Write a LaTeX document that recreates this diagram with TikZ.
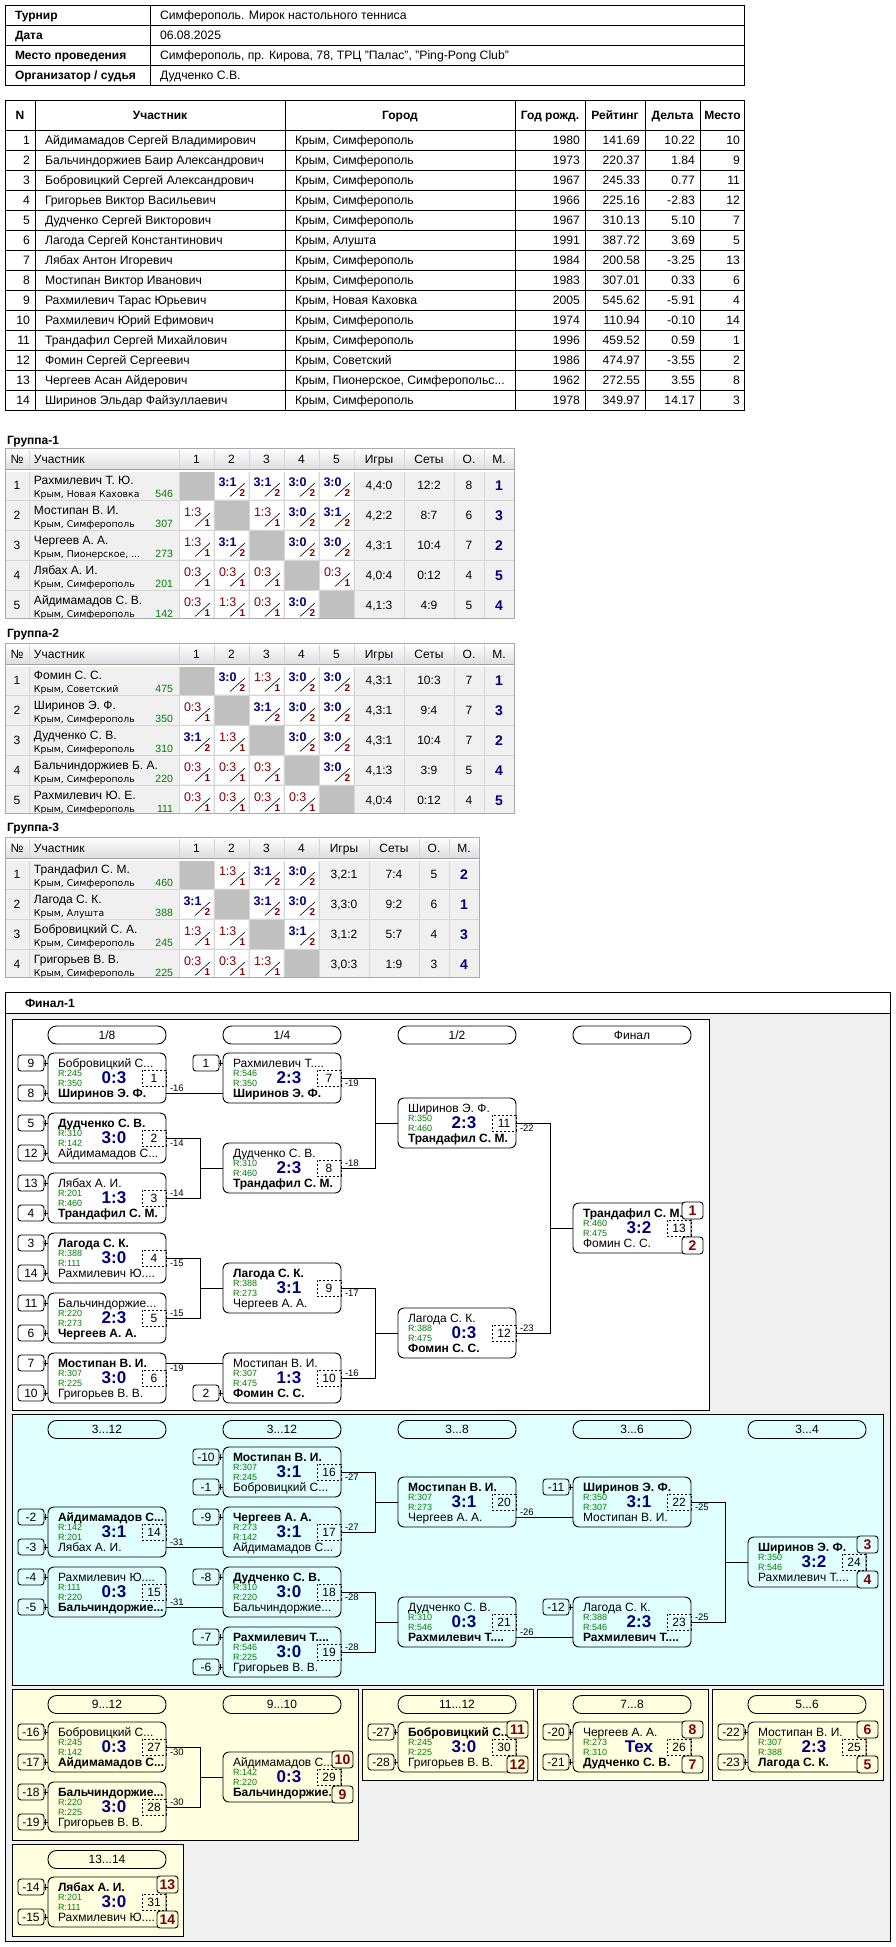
\documentclass[tikz,border=0pt]{standalone}
\usepackage{fontspec}
\setmainfont{Liberation Sans}
\newfontfamily\cityfnt{DejaVu Sans}
\usetikzlibrary{calc}
\definecolor{scblue}{RGB}{0,0,128}
\definecolor{dred}{RGB}{128,0,0}
\definecolor{rgreen}{RGB}{0,128,0}
\definecolor{cyanbg}{RGB}{224,255,255}
\definecolor{yelbg}{RGB}{255,255,224}
\definecolor{graybg}{RGB}{240,240,240}
\definecolor{gbody}{RGB}{240,240,240}
\definecolor{gridc}{RGB}{214,214,214}
\definecolor{hdrb}{RGB}{222,222,226}
\definecolor{hdrl}{RGB}{160,160,160}
\definecolor{gborder}{RGB}{170,170,170}
\definecolor{selfc}{RGB}{192,192,192}
\newcommand{\FS}[1]{\fontsize{#1}{#1}\selectfont}
\def\curbg{white}
\tikzset{
 every node/.style={inner sep=0pt,outer sep=0pt},
 th/.style={text height=#1,text depth=0pt},
 tx/.style={anchor=west,font=\FS{12.2},th=8.7pt},
 txb/.style={anchor=west,font=\FS{12}\bfseries,th=8.7pt},
 txr/.style={anchor=east,font=\FS{12.2},th=8.7pt},
 txc/.style={font=\FS{12},th=8.7pt},
 txcb/.style={font=\FS{12}\bfseries,th=8.7pt},
 gname/.style={anchor=west,font=\FS{12},th=8.7pt},
 gcity/.style={anchor=west,font=\cityfnt\FS{9.3},th=6.8pt},
 grat/.style={anchor=east,font=\FS{10.5},text=rgreen,th=7.5pt},
 gst/.style={font=\FS{12},th=8.7pt},
 gpl/.style={font=\FS{14}\bfseries,text=scblue,th=10pt},
 gsw/.style={anchor=west,font=\FS{12.5}\bfseries,text=scblue,th=9pt},
 gsl/.style={anchor=west,font=\FS{12.5},text=dred,th=9pt},
 gpw/.style={font=\FS{10}\bfseries,text=dred,th=7.2pt},
 slash/.style={line width=0.6pt},
 hsep/.style={draw=gridc},
 mbox/.style={draw,rounded corners=6pt,minimum width=118pt,minimum height=50pt},
 nmtxt/.style={anchor=west,font=\FS{12},th=8.7pt},
 rtxt/.style={anchor=west,font=\FS{9},text=rgreen,th=6.5pt},
 sctxt/.style={font=\FS{17}\bfseries,text=scblue,th=12.2pt},
 numbox/.style={draw,dash pattern=on 2pt off 2pt,minimum width=24pt,minimum height=16pt,font=\FS{12},th=8.7pt},
 seedbox/.style={draw,rounded corners=3pt,minimum width=26pt,minimum height=16pt,font=\FS{12},th=8.7pt},
 plbox/.style={draw,rounded corners=3pt,minimum width=21pt,minimum height=17pt,font=\FS{14}\bfseries,text=dred,fill=\curbg,th=10pt},
 pill/.style={draw,rounded corners=8.5pt,minimum width=118pt,minimum height=18pt,font=\FS{12},th=8.7pt},
 lbl/.style={font=\FS{9.5},th=6.8pt},
}
% group table cells
\newcommand{\GcW}[4]{\fill[white] (#1+1,#2+1) rectangle (#1+34,#2+29);
 \node[gsw] (#4a) at (#1+4.5,#2+11.5) {#3};
 \draw[slash] (#1+16,#2+26.5) -- (#1+31,#2+13);
 \node[gpw] (#4b) at (#1+28.5,#2+23.3) {2};}
\newcommand{\GcL}[4]{\fill[white] (#1+1,#2+1) rectangle (#1+34,#2+29);
 \node[gsl] (#4a) at (#1+5,#2+11.5) {#3};
 \draw[slash] (#1+16,#2+26.5) -- (#1+31,#2+13);
 \node[gpw] (#4b) at (#1+28.5,#2+23.3) {1};}
\newcommand{\GcX}[2]{\fill[selfc] (#1,#2) rectangle (#1+35,#2+30);}
\newcommand{\GRow}[6]{%
 \node[gst] (#1n) at (17,#2+15) {#3};
 \node[gname] (#1m) at (34,#2+10) {#4};
 \node[gcity] (#1c) at (34,#2+24) {#5};
 \node[grat] (#1r) at (173,#2+24) {#6};}
\newcommand{\GStF}[6]{%
 \node[gst] (#1g) at (379,#2+15) {#3};
 \node[gst] (#1s) at (429,#2+15) {#4};
 \node[gst] (#1p) at (469,#2+15) {#5};
 \node[gpl] (#1q) at (499,#2+15) {#6};}
\newcommand{\GStV}[6]{%
 \node[gst] (#1g) at (344,#2+15) {#3};
 \node[gst] (#1s) at (394,#2+15) {#4};
 \node[gst] (#1p) at (434,#2+15) {#5};
 \node[gpl] (#1q) at (464,#2+15) {#6};}
\newcommand{\GHdr}[3]{%
 \shade[top color=white,bottom color=hdrb] (5,#1) rectangle (#2,#1+21);
 \fill[white] (5,#1+21) rectangle (#2,#1+24);
 \draw[hdrl] (5,#1+21) -- (#2,#1+21);
 \foreach \xx in {#3} \draw[hsep] (\xx,#1+2) -- (\xx,#1+20);}
% bracket
\newcommand{\Mt}[9]{%
 \node[mbox] (#1) at (#2+59,#3+25) {};
 \node[nmtxt] (#1a) at (#2+10,#3+10) {#4};
 \node[rtxt] (#1b) at (#2+10,#3+20) {R:#5};
 \node[rtxt] (#1c) at (#2+10,#3+30.5) {R:#6};
 \node[sctxt] (#1d) at (#2+66,#3+24.5) {#7};
 \node[nmtxt] (#1e) at (#2+10,#3+40) {#8};
 \node[numbox] (#1f) at (#2+106,#3+25) {#9};}
\newcommand{\Sd}[5]{%
 \node[seedbox] (#1) at (#3-17,#4) {#5};
 \draw (#1.east) -- (#2.west |- #1.east);
 \draw ($(#2.west |- #1.east)+(-2.5,-3)$) -- ++(0,6);}
\newcommand{\Pl}[4]{%
 \node[plbox] (#1t) at ($(#2.north east)+(1.5,7.5)$) {#3};
 \node[plbox] (#1b) at ($(#2.south east)+(1.5,-7.5)$) {#4};}
\newcommand{\Jn}[5]{% pair join: a, b, target, label a, label b
 \draw (#1.east) -- ++(34,0) |- (#3.west);
 \draw (#2.east) -- ++(34,0) |- (#3.west);
 \node[lbl,anchor=north west] (#1l) at ($(#1.east)+(4,2)$) {#4};
 \node[lbl,anchor=south west] (#2l) at ($(#2.east)+(4,-2)$) {#5};}
\newcommand{\Jb}[3]{% straight to bottom slot
 \draw ($(#1.east)+(0,15)$) -- ($(#2.west)+(0,15)$);
 \node[lbl,anchor=south west] (#1l) at ($(#1.east)+(4,13)$) {#3};}
\newcommand{\Jt}[3]{% straight to top slot
 \draw ($(#1.east)+(0,-15)$) -- ($(#2.west)+(0,-15)$);
 \node[lbl,anchor=north west] (#1l) at ($(#1.east)+(4,-13)$) {#3};}
\begin{document}
\begin{tikzpicture}[x=1pt,y=-1pt,line width=0.9pt]
\useasboundingbox (0,0) rectangle (895,1947);
\fill[white] (0,0) rectangle (895,1947);
%% info table
\draw (5,5) rectangle (744,85);
\foreach \yy in {25,45,65} \draw (5,\yy) -- (744,\yy);
\draw (150,5) -- (150,85);
\node[txb] (i1) at (15,15) {Турнир};
\node[txb] (i2) at (15,35) {Дата};
\node[txb] (i3) at (15,55) {Место проведения};
\node[txb] (i4) at (15,75) {Организатор / судья};
\node[tx] (v1) at (160,15) {Симферополь. Мирок настольного тенниса};
\node[tx] (v2) at (160,35) {06.08.2025};
\node[tx] (v3) at (160,55) {Симферополь, пр. Кирова, 78, ТРЦ "Палас", "Ping-Pong Club"};
\node[tx] (v4) at (160,75) {Дудченко С.В.};
%% main table
\draw (5,100) rectangle (744,410);
\foreach \yy in {130,150,...,390} \draw (5,\yy) -- (744,\yy);
\foreach \xx in {35,285,515,585,645,700} \draw (\xx,100) -- (\xx,410);
\node[txcb] (h1) at (20,115) {N};
\node[txcb] (h2) at (160,115) {Участник};
\node[txcb] (h3) at (400,115) {Город};
\node[txcb] (h4) at (550,115) {Год рожд.};
\node[txcb] (h5) at (615,115) {Рейтинг};
\node[txcb] (h6) at (672.5,115) {Дельта};
\node[txcb] (h7) at (722.5,115) {Место};
\foreach \pa/\pb/\pc/\pd/\pe/\pf/\pg in {
1/Айдимамадов Сергей Владимирович/{Крым, Симферополь}/1980/141.69/10.22/10,
2/Бальчиндоржиев Баир Александрович/{Крым, Симферополь}/1973/220.37/1.84/9,
3/Бобровицкий Сергей Александрович/{Крым, Симферополь}/1967/245.33/0.77/11,
4/Григорьев Виктор Васильевич/{Крым, Симферополь}/1966/225.16/-2.83/12,
5/Дудченко Сергей Викторович/{Крым, Симферополь}/1967/310.13/5.10/7,
6/Лагода Сергей Константинович/{Крым, Алушта}/1991/387.72/3.69/5,
7/Лябах Антон Игоревич/{Крым, Симферополь}/1984/200.58/-3.25/13,
8/Мостипан Виктор Иванович/{Крым, Симферополь}/1983/307.01/0.33/6,
9/Рахмилевич Тарас Юрьевич/{Крым, Новая Каховка}/2005/545.62/-5.91/4,
10/Рахмилевич Юрий Ефимович/{Крым, Симферополь}/1974/110.94/-0.10/14,
11/Трандафил Сергей Михайлович/{Крым, Симферополь}/1996/459.52/0.59/1,
12/Фомин Сергей Сергеевич/{Крым, Советский}/1986/474.97/-3.55/2,
13/Чергеев Асан Айдерович/{Крым, Пионерское, Симферопольс...}/1962/272.55/3.55/8,
14/Ширинов Эльдар Файзуллаевич/{Крым, Симферополь}/1978/349.97/14.17/3}{
 \node[txr] (tn\pa) at (30,120+20*\pa) {\pa};
 \node[tx] (tp\pa) at (45,120+20*\pa) {\pb};
 \node[tx] (tc\pa) at (295,120+20*\pa) {\pc};
 \node[txr] (ty\pa) at (580,120+20*\pa) {\pd};
 \node[txr] (tr\pa) at (640,120+20*\pa) {\pe};
 \node[txr] (td\pa) at (695,120+20*\pa) {\pf};
 \node[txr] (tm\pa) at (740,120+20*\pa) {\pg};
}
%% Group 1
\node[txb] (g1t) at (7,440) {Группа-1};
\begin{scope}
\clip (5,472) rectangle (514,618);
\fill[gbody] (5,472) rectangle (514,618);
\GcX{179}{470} \GcW{214}{470}{3:1}{g1a2} \GcW{249}{470}{3:1}{g1a3} \GcW{284}{470}{3:0}{g1a4} \GcW{319}{470}{3:0}{g1a5}
\GcL{179}{500}{1:3}{g1b1} \GcX{214}{500} \GcL{249}{500}{1:3}{g1b3} \GcW{284}{500}{3:0}{g1b4} \GcW{319}{500}{3:1}{g1b5}
\GcL{179}{530}{1:3}{g1c1} \GcW{214}{530}{3:1}{g1c2} \GcX{249}{530} \GcW{284}{530}{3:0}{g1c4} \GcW{319}{530}{3:0}{g1c5}
\GcL{179}{560}{0:3}{g1d1} \GcL{214}{560}{0:3}{g1d2} \GcL{249}{560}{0:3}{g1d3} \GcX{284}{560} \GcL{319}{560}{0:3}{g1d5}
\GcL{179}{590}{0:3}{g1e1} \GcL{214}{590}{1:3}{g1e2} \GcL{249}{590}{0:3}{g1e3} \GcW{284}{590}{3:0}{g1e4} \GcX{319}{590}
\foreach \yy in {500,530,560,590} \draw[gridc] (5,\yy) -- (514,\yy);
\foreach \xx in {29,179,214,249,284,319,354,404,454,484} \draw[gridc] (\xx,472) -- (\xx,618);
\GRow{g1r1}{470}{1}{Рахмилевич Т. Ю.}{Крым, Новая Каховка}{546}
\GRow{g1r2}{500}{2}{Мостипан В. И.}{Крым, Симферополь}{307}
\GRow{g1r3}{530}{3}{Чергеев А. А.}{Крым, Пионерское, ...}{273}
\GRow{g1r4}{560}{4}{Лябах А. И.}{Крым, Симферополь}{201}
\GRow{g1r5}{590}{5}{Айдимамадов С. В.}{Крым, Симферополь}{142}
\GStF{g1r1}{470}{4,4:0}{12:2}{8}{1}
\GStF{g1r2}{500}{4,2:2}{8:7}{6}{3}
\GStF{g1r3}{530}{4,3:1}{10:4}{7}{2}
\GStF{g1r4}{560}{4,0:4}{0:12}{4}{5}
\GStF{g1r5}{590}{4,1:3}{4:9}{5}{4}
\end{scope}
\GHdr{448}{514}{29,179,214,249,284,319,354,404,454,484}
\draw[gborder] (5,448) rectangle (514,618);
\node[gst] (g1h1) at (17,459) {№};
\node[gname] (g1h2) at (34,459) {Участник};
\foreach \k in {1,...,5} \node[gst] (g1hc\k) at (161.5+35*\k,459) {\k};
\node[gst] (g1h3) at (379,459) {Игры};
\node[gst] (g1h4) at (429,459) {Сеты};
\node[gst] (g1h5) at (469,459) {О.};
\node[gst] (g1h6) at (499,459) {М.};
%% Group 2
\node[txb] (g2t) at (7,633) {Группа-2};
\begin{scope}
\clip (5,667) rectangle (514,813);
\fill[gbody] (5,667) rectangle (514,813);
\GcX{179}{665} \GcW{214}{665}{3:0}{g2a2} \GcL{249}{665}{1:3}{g2a3} \GcW{284}{665}{3:0}{g2a4} \GcW{319}{665}{3:0}{g2a5}
\GcL{179}{695}{0:3}{g2b1} \GcX{214}{695} \GcW{249}{695}{3:1}{g2b3} \GcW{284}{695}{3:0}{g2b4} \GcW{319}{695}{3:0}{g2b5}
\GcW{179}{725}{3:1}{g2c1} \GcL{214}{725}{1:3}{g2c2} \GcX{249}{725} \GcW{284}{725}{3:0}{g2c4} \GcW{319}{725}{3:0}{g2c5}
\GcL{179}{755}{0:3}{g2d1} \GcL{214}{755}{0:3}{g2d2} \GcL{249}{755}{0:3}{g2d3} \GcX{284}{755} \GcW{319}{755}{3:0}{g2d5}
\GcL{179}{785}{0:3}{g2e1} \GcL{214}{785}{0:3}{g2e2} \GcL{249}{785}{0:3}{g2e3} \GcL{284}{785}{0:3}{g2e4} \GcX{319}{785}
\foreach \yy in {695,725,755,785} \draw[gridc] (5,\yy) -- (514,\yy);
\foreach \xx in {29,179,214,249,284,319,354,404,454,484} \draw[gridc] (\xx,667) -- (\xx,813);
\GRow{g2r1}{665}{1}{Фомин С. С.}{Крым, Советский}{475}
\GRow{g2r2}{695}{2}{Ширинов Э. Ф.}{Крым, Симферополь}{350}
\GRow{g2r3}{725}{3}{Дудченко С. В.}{Крым, Симферополь}{310}
\GRow{g2r4}{755}{4}{Бальчиндоржиев Б. А.}{Крым, Симферополь}{220}
\GRow{g2r5}{785}{5}{Рахмилевич Ю. Е.}{Крым, Симферополь}{111}
\GStF{g2r1}{665}{4,3:1}{10:3}{7}{1}
\GStF{g2r2}{695}{4,3:1}{9:4}{7}{3}
\GStF{g2r3}{725}{4,3:1}{10:4}{7}{2}
\GStF{g2r4}{755}{4,1:3}{3:9}{5}{4}
\GStF{g2r5}{785}{4,0:4}{0:12}{4}{5}
\end{scope}
\GHdr{643}{514}{29,179,214,249,284,319,354,404,454,484}
\draw[gborder] (5,643) rectangle (514,813);
\node[gst] (g2h1) at (17,654) {№};
\node[gname] (g2h2) at (34,654) {Участник};
\foreach \k in {1,...,5} \node[gst] (g2hc\k) at (161.5+35*\k,654) {\k};
\node[gst] (g2h3) at (379,654) {Игры};
\node[gst] (g2h4) at (429,654) {Сеты};
\node[gst] (g2h5) at (469,654) {О.};
\node[gst] (g2h6) at (499,654) {М.};
%% Group 3
\node[txb] (g3t) at (7,827) {Группа-3};
\begin{scope}
\clip (5,861) rectangle (479,977);
\fill[gbody] (5,861) rectangle (479,977);
\GcX{179}{859} \GcL{214}{859}{1:3}{g3a2} \GcW{249}{859}{3:1}{g3a3} \GcW{284}{859}{3:0}{g3a4}
\GcW{179}{889}{3:1}{g3b1} \GcX{214}{889} \GcW{249}{889}{3:1}{g3b3} \GcW{284}{889}{3:0}{g3b4}
\GcL{179}{919}{1:3}{g3c1} \GcL{214}{919}{1:3}{g3c2} \GcX{249}{919} \GcW{284}{919}{3:1}{g3c4}
\GcL{179}{949}{0:3}{g3d1} \GcL{214}{949}{0:3}{g3d2} \GcL{249}{949}{1:3}{g3d3} \GcX{284}{949}
\foreach \yy in {889,919,949} \draw[gridc] (5,\yy) -- (479,\yy);
\foreach \xx in {29,179,214,249,284,319,369,419,449} \draw[gridc] (\xx,861) -- (\xx,977);
\GRow{g3r1}{859}{1}{Трандафил С. М.}{Крым, Симферополь}{460}
\GRow{g3r2}{889}{2}{Лагода С. К.}{Крым, Алушта}{388}
\GRow{g3r3}{919}{3}{Бобровицкий С. А.}{Крым, Симферополь}{245}
\GRow{g3r4}{949}{4}{Григорьев В. В.}{Крым, Симферополь}{225}
\GStV{g3r1}{859}{3,2:1}{7:4}{5}{2}
\GStV{g3r2}{889}{3,3:0}{9:2}{6}{1}
\GStV{g3r3}{919}{3,1:2}{5:7}{4}{3}
\GStV{g3r4}{949}{3,0:3}{1:9}{3}{4}
\end{scope}
\GHdr{837}{479}{29,179,214,249,284,319,369,419,449}
\draw[gborder] (5,837) rectangle (479,977);
\node[gst] (g3h1) at (17,848) {№};
\node[gname] (g3h2) at (34,848) {Участник};
\foreach \k in {1,...,4} \node[gst] (g3hc\k) at (161.5+35*\k,848) {\k};
\node[gst] (g3h3) at (344,848) {Игры};
\node[gst] (g3h4) at (394,848) {Сеты};
\node[gst] (g3h5) at (434,848) {О.};
\node[gst] (g3h6) at (464,848) {М.};
%% Final-1 frame
\fill[graybg] (5,992) rectangle (890,1941);
\fill[white] (5,992) rectangle (890,1013);
\draw (5,992) rectangle (890,1941);
\draw (5,1013) -- (890,1013);
\node[txb] (f1t) at (25,1003) {Финал-1};
\filldraw[fill=white] (12,1019) rectangle (709,1410);
\filldraw[fill=cyanbg] (12,1414) rectangle (883,1685);
\filldraw[fill=yelbg] (12,1689) rectangle (358,1840);
\filldraw[fill=yelbg] (362,1689) rectangle (533,1780);
\filldraw[fill=yelbg] (537,1689) rectangle (708,1780);
\filldraw[fill=yelbg] (712,1689) rectangle (883,1780);
\filldraw[fill=yelbg] (12,1844) rectangle (183,1936);
%% main bracket
\node[pill] (pa1) at (107,1035) {1/8};
\node[pill] (pa2) at (282,1035) {1/4};
\node[pill] (pa3) at (457,1035) {1/2};
\node[pill] (pa4) at (632,1035) {Финал};
\Mt{m1}{48}{1053}{Бобровицкий С...}{245}{350}{0:3}{\textbf{Ширинов Э. Ф.}}{1}
\Mt{m2}{48}{1113}{\textbf{Дудченко С. В.}}{310}{142}{3:0}{Айдимамадов С...}{2}
\Mt{m3}{48}{1173}{Лябах А. И.}{201}{460}{1:3}{\textbf{Трандафил С. М.}}{3}
\Mt{m4}{48}{1233}{\textbf{Лагода С. К.}}{388}{111}{3:0}{Рахмилевич Ю....}{4}
\Mt{m5}{48}{1293}{Бальчиндоржие...}{220}{273}{2:3}{\textbf{Чергеев А. А.}}{5}
\Mt{m6}{48}{1353}{\textbf{Мостипан В. И.}}{307}{225}{3:0}{Григорьев В. В.}{6}
\Mt{m7}{223}{1053}{Рахмилевич Т....}{546}{350}{2:3}{\textbf{Ширинов Э. Ф.}}{7}
\Mt{m8}{223}{1143}{Дудченко С. В.}{310}{460}{2:3}{\textbf{Трандафил С. М.}}{8}
\Mt{m9}{223}{1263}{\textbf{Лагода С. К.}}{388}{273}{3:1}{Чергеев А. А.}{9}
\Mt{m10}{223}{1353}{Мостипан В. И.}{307}{475}{1:3}{\textbf{Фомин С. С.}}{10}
\Mt{m11}{398}{1098}{Ширинов Э. Ф.}{350}{460}{2:3}{\textbf{Трандафил С. М.}}{11}
\Mt{m12}{398}{1308}{Лагода С. К.}{388}{475}{0:3}{\textbf{Фомин С. С.}}{12}
\Mt{m13}{573}{1203}{\textbf{Трандафил С. М.}}{460}{475}{3:2}{Фомин С. С.}{13}
\Sd{s9}{m1}{48}{1063}{9} \Sd{s8}{m1}{48}{1093}{8}
\Sd{s5}{m2}{48}{1123}{5} \Sd{s12}{m2}{48}{1153}{12}
\Sd{s13}{m3}{48}{1183}{13} \Sd{s4}{m3}{48}{1213}{4}
\Sd{s3}{m4}{48}{1243}{3} \Sd{s14}{m4}{48}{1273}{14}
\Sd{s11}{m5}{48}{1303}{11} \Sd{s6}{m5}{48}{1333}{6}
\Sd{s7}{m6}{48}{1363}{7} \Sd{s10}{m6}{48}{1393}{10}
\Sd{s1}{m7}{223}{1063}{1} \Sd{s2}{m10}{223}{1393}{2}
\Jb{m1}{m7}{-16}
\Jn{m2}{m3}{m8}{-14}{-14}
\Jn{m4}{m5}{m9}{-15}{-15}
\Jt{m6}{m10}{-19}
\Jn{m7}{m8}{m11}{-19}{-18}
\Jn{m9}{m10}{m12}{-17}{-16}
\Jn{m11}{m12}{m13}{-22}{-23}
\def\curbg{white}
\Pl{q13}{m13}{1}{2}
%% 3..12
\node[pill] (pb1) at (107,1429.5) {3...12};
\node[pill] (pb2) at (282,1429.5) {3...12};
\node[pill] (pb3) at (457,1429.5) {3...8};
\node[pill] (pb4) at (632,1429.5) {3...6};
\node[pill] (pb5) at (807,1429.5) {3...4};
\Mt{m14}{48}{1507}{\textbf{Айдимамадов С...}}{142}{201}{3:1}{Лябах А. И.}{14}
\Mt{m15}{48}{1567}{Рахмилевич Ю....}{111}{220}{0:3}{\textbf{Бальчиндоржие...}}{15}
\Mt{m16}{223}{1447}{\textbf{Мостипан В. И.}}{307}{245}{3:1}{Бобровицкий С...}{16}
\Mt{m17}{223}{1507}{\textbf{Чергеев А. А.}}{273}{142}{3:1}{Айдимамадов С...}{17}
\Mt{m18}{223}{1567}{\textbf{Дудченко С. В.}}{310}{220}{3:0}{Бальчиндоржие...}{18}
\Mt{m19}{223}{1627}{\textbf{Рахмилевич Т....}}{546}{225}{3:0}{Григорьев В. В.}{19}
\Mt{m20}{398}{1477}{\textbf{Мостипан В. И.}}{307}{273}{3:1}{Чергеев А. А.}{20}
\Mt{m21}{398}{1597}{Дудченко С. В.}{310}{546}{0:3}{\textbf{Рахмилевич Т....}}{21}
\Mt{m22}{573}{1477}{\textbf{Ширинов Э. Ф.}}{350}{307}{3:1}{Мостипан В. И.}{22}
\Mt{m23}{573}{1597}{Лагода С. К.}{388}{546}{2:3}{\textbf{Рахмилевич Т....}}{23}
\Mt{m24}{748}{1537}{\textbf{Ширинов Э. Ф.}}{350}{546}{3:2}{Рахмилевич Т....}{24}
\Sd{sb2}{m14}{48}{1517}{-2} \Sd{sb3}{m14}{48}{1547}{-3}
\Sd{sb4}{m15}{48}{1577}{-4} \Sd{sb5}{m15}{48}{1607}{-5}
\Sd{sb10}{m16}{223}{1457}{-10} \Sd{sb1}{m16}{223}{1487}{-1}
\Sd{sb9}{m17}{223}{1517}{-9}
\Sd{sb8}{m18}{223}{1577}{-8}
\Sd{sb7}{m19}{223}{1637}{-7} \Sd{sb6}{m19}{223}{1667}{-6}
\Sd{sb11}{m22}{573}{1487}{-11}
\Sd{sb12}{m23}{573}{1607}{-12}
\Jb{m14}{m17}{-31}
\Jb{m15}{m18}{-31}
\Jn{m16}{m17}{m20}{-27}{-27}
\Jn{m18}{m19}{m21}{-28}{-28}
\Jb{m20}{m22}{-26}
\Jb{m21}{m23}{-26}
\Jn{m22}{m23}{m24}{-25}{-25}
\def\curbg{cyanbg}
\Pl{q24}{m24}{3}{4}
%% 9..12 and others
\node[pill] (pc1) at (107,1704.5) {9...12};
\node[pill] (pc2) at (282,1704.5) {9...10};
\node[pill] (pc3) at (457,1704.5) {11...12};
\node[pill] (pc4) at (632,1704.5) {7...8};
\node[pill] (pc5) at (807,1704.5) {5...6};
\node[pill] (pc6) at (107,1859.5) {13...14};
\Mt{m27}{48}{1722}{Бобровицкий С...}{245}{142}{0:3}{\textbf{Айдимамадов С...}}{27}
\Mt{m28}{48}{1782}{\textbf{Бальчиндоржие...}}{220}{225}{3:0}{Григорьев В. В.}{28}
\Mt{m29}{223}{1752}{Айдимамадов С...}{142}{220}{0:3}{\textbf{Бальчиндоржие...}}{29}
\Mt{m30}{398}{1722}{\textbf{Бобровицкий С...}}{245}{225}{3:0}{Григорьев В. В.}{30}
\Mt{m26}{573}{1722}{Чергеев А. А.}{273}{310}{Тех}{\textbf{Дудченко С. В.}}{26}
\Mt{m25}{748}{1722}{Мостипан В. И.}{307}{388}{2:3}{\textbf{Лагода С. К.}}{25}
\Mt{m31}{48}{1877}{\textbf{Лябах А. И.}}{201}{111}{3:0}{Рахмилевич Ю....}{31}
\Sd{sc16}{m27}{48}{1732}{-16} \Sd{sc17}{m27}{48}{1762}{-17}
\Sd{sc18}{m28}{48}{1792}{-18} \Sd{sc19}{m28}{48}{1822}{-19}
\Sd{sc27}{m30}{398}{1732}{-27} \Sd{sc28}{m30}{398}{1762}{-28}
\Sd{sc20}{m26}{573}{1732}{-20} \Sd{sc21}{m26}{573}{1762}{-21}
\Sd{sc22}{m25}{748}{1732}{-22} \Sd{sc23}{m25}{748}{1762}{-23}
\Sd{sc14}{m31}{48}{1887}{-14} \Sd{sc15}{m31}{48}{1917}{-15}
\Jn{m27}{m28}{m29}{-30}{-30}
\def\curbg{yelbg}
\Pl{q29}{m29}{10}{9}
\Pl{q30}{m30}{11}{12}
\Pl{q26}{m26}{8}{7}
\Pl{q25}{m25}{6}{5}
\Pl{q31}{m31}{13}{14}
\end{tikzpicture}
\end{document}
